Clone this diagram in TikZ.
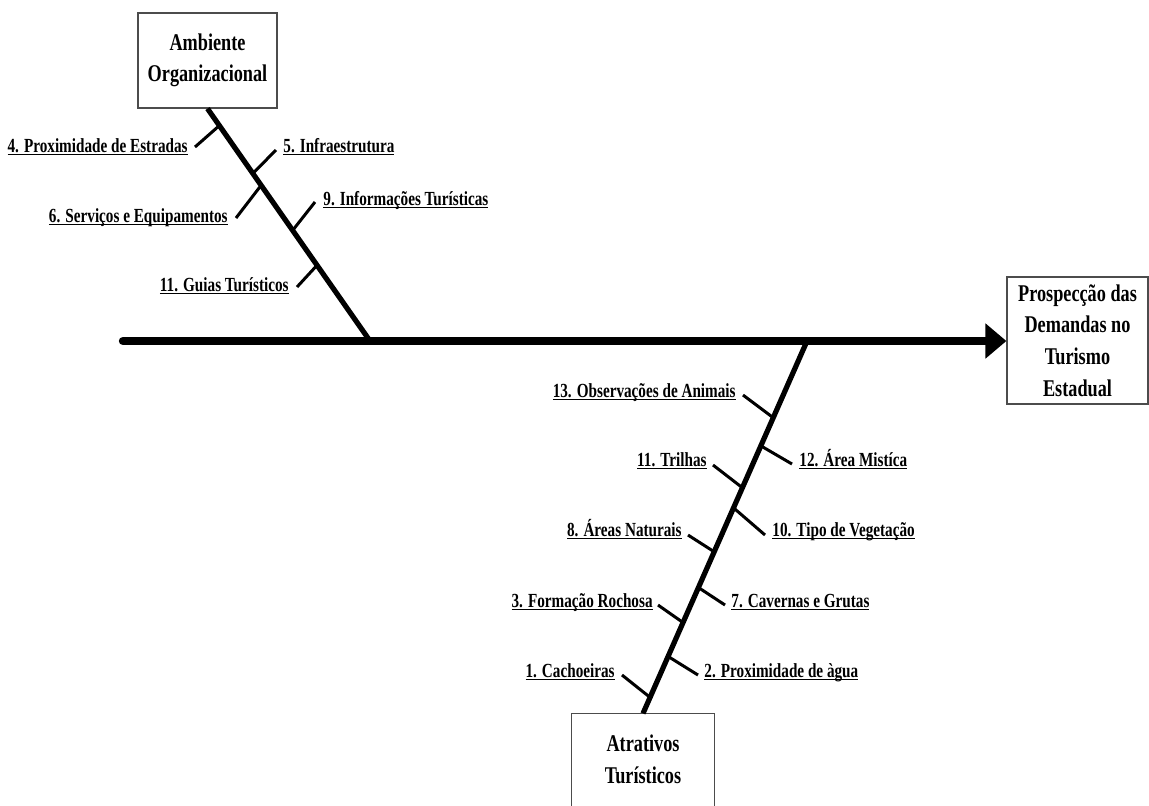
\documentclass[tikz,border=0pt]{standalone}
\usepackage{fontspec}
\setmainfont{Liberation Serif}[FakeStretch=0.76]
\usetikzlibrary{arrows.meta,calc}
\newsavebox\labbox
\newcommand{\labu}[1]{\sbox\labbox{#1}\rlap{\rule[-1.6pt]{\wd\labbox}{0.8pt}}\usebox\labbox}
\begin{document}
\begin{tikzpicture}[x=0.5pt,y=-0.5pt,
  lab/.style={font=\fontsize{10}{11}\selectfont\bfseries, inner sep=0pt},
  boxn/.style={draw=black!70, line width=0.6pt, font=\fontsize{12}{15.8}\selectfont\bfseries, align=center, inner sep=0pt},
  boxline/.style={draw=black!70, line width=0.6pt},
  bone/.style={line width=2.6pt},
  tickline/.style={line width=1.5pt},
  spine/.style={line width=4.2pt, line cap=round}
]
\useasboundingbox (0,0) rectangle (1149,805);

% boxes
\node[boxn, minimum width=69.5pt, minimum height=47.5pt] (amb) at (207.5,60.5) {Ambiente\\Organizacional};
\node[boxn, minimum width=70.5pt, minimum height=63.5pt] (pro) at (1077.5,340.5) {Prospecção das\\Demandas no\\Turismo\\Estadual};
\node[boxn, draw=none, minimum width=71pt, minimum height=45.5pt] (atr) at (643,759.5) {Atrativos\\Turísticos};
\draw[boxline] (atr.south west) |- (atr.north east) -- (atr.south east);

% spine
\coordinate (s0) at (123,341);
\coordinate (j1) at (370,341);
\coordinate (j2) at (807,341);
\draw[spine, -{Triangle[length=10.5pt,width=17pt]}] (s0) -- (pro.west |- s0);

% bones
\draw[bone] (amb.south) -- (j1);
\draw[bone] (j2) -- (atr.north);

% upper ticks
\coordinate (b4) at ($(amb.south)!0.073!(j1)$);  \coordinate (e4) at (195,147);
\coordinate (b5) at ($(amb.south)!0.279!(j1)$);  \coordinate (e5) at (276,150);
\coordinate (b6) at ($(amb.south)!0.33!(j1)$);   \coordinate (e6) at (236,218);
\coordinate (b9) at ($(amb.south)!0.524!(j1)$);  \coordinate (e9) at (315,202);
\coordinate (bg) at ($(amb.south)!0.674!(j1)$);  \coordinate (eg) at (297,287);
\foreach \k in {4,5,6,9,g} \draw[tickline] (b\k) -- (e\k);

\node[lab, anchor=base east] (l4) at (188,152) {\labu{4. Proximidade de Estradas}};
\node[lab, anchor=base west] (l5) at (283,152) {\labu{5. Infraestrutura}};
\node[lab, anchor=base east] (l6) at (228,222) {\labu{6. Serviços e Equipamentos}};
\node[lab, anchor=base west] (l9) at (323,205) {\labu{9. Informações Turísticas}};
\node[lab, anchor=base east] (lg) at (289,291) {\labu{11. Guias Turísticos}};

% lower ticks
\coordinate (c13) at ($(j2)!0.206!(atr.north)$);  \coordinate (f13) at (743,395);
\coordinate (c12) at ($(j2)!0.2815!(atr.north)$); \coordinate (f12) at (792,464);
\coordinate (c11) at ($(j2)!0.394!(atr.north)$);  \coordinate (f11) at (713,465);
\coordinate (c10) at ($(j2)!0.448!(atr.north)$);  \coordinate (f10) at (765,535);
\coordinate (c8) at ($(j2)!0.566!(atr.north)$);   \coordinate (f8) at (688,535);
\coordinate (c7) at ($(j2)!0.662!(atr.north)$);   \coordinate (f7) at (725,605);
\coordinate (c3) at ($(j2)!0.756!(atr.north)$);   \coordinate (f3) at (658,605);
\coordinate (c2) at ($(j2)!0.847!(atr.north)$);   \coordinate (f2) at (698,675);
\coordinate (c1) at ($(j2)!0.957!(atr.north)$);   \coordinate (f1) at (622,675);
\foreach \k in {13,12,11,10,8,7,3,2,1} \draw[tickline] (c\k) -- (f\k);

\node[lab, anchor=base east] (m13) at (736,397) {\labu{13. Observações de Animais}};
\node[lab, anchor=base west] (m12) at (799,466) {\labu{12. Área Mistíca}};
\node[lab, anchor=base east] (m11) at (707,466) {\labu{11. Trilhas}};
\node[lab, anchor=base west] (m10) at (772,536) {\labu{10. Tipo de Vegetação}};
\node[lab, anchor=base east] (m8) at (682,536) {\labu{8. Áreas Naturais}};
\node[lab, anchor=base west] (m7) at (731,607) {\labu{7. Cavernas e Grutas}};
\node[lab, anchor=base east] (m3) at (653,607) {\labu{3. Formação Rochosa}};
\node[lab, anchor=base west] (m2) at (704,677) {\labu{2. Proximidade de àgua}};
\node[lab, anchor=base east] (m1) at (615,677) {\labu{1. Cachoeiras}};
\end{tikzpicture}
\end{document}
